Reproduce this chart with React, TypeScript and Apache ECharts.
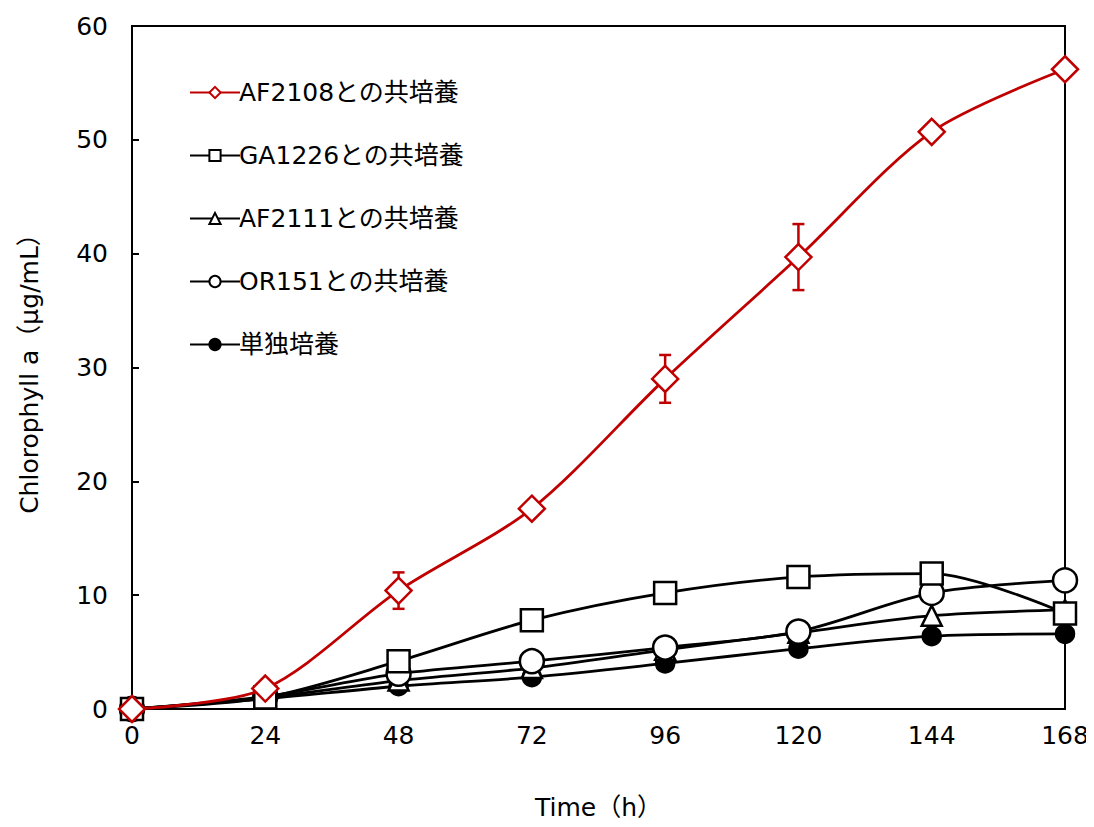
import React, { useEffect, useRef } from "react";
import * as echarts from "echarts";

const hours = [0, 24, 48, 72, 96, 120, 144, 168];
const seriesNames = ["AF2108との共培養", "GA1226との共培養", "AF2111との共培養", "OR151との共培養", "単独培養"];
const af2108 = [0, 1.8, 10.4, 17.6, 29.0, 39.7, 50.7, 56.2];
const af2108Err = [0, 0.3, 1.6, 0.4, 2.1, 2.9, 0.4, 0.3];
const ga1226 = [0, 1.0, 4.2, 7.8, 10.2, 11.6, 11.9, 8.4];
const ga1226Err = [0, 0, 0, 0, 0, 0.6, 0, 0];
const af2111 = [0, 1.0, 2.5, 3.6, 5.2, 6.7, 8.2, 8.7];
const or151 = [0, 1.1, 3.1, 4.2, 5.4, 6.8, 10.2, 11.3];
const single = [0, 0.9, 2.0, 2.8, 4.0, 5.3, 6.4, 6.6];
const xTicks = { min: 0, max: 168, interval: 24 };
const yTicks = { min: 0, max: 60, interval: 10 };

const FONT = "'DejaVu Sans', 'Noto Sans CJK JP', sans-serif";

function pairs(vals: number[]) {
  return hours.map((h, i) => [h, vals[i]]);
}
function errData(vals: number[], errs: number[]) {
  return hours.map((h, i) => [h, vals[i], errs[i]]).filter((d) => d[2] > 0);
}

function errorSeries(vals: number[], errs: number[], color: string, z: number) {
  return {
    type: "custom",
    z,
    silent: true,
    data: errData(vals, errs),
    renderItem: (params: any, api: any) => {
      const x = api.value(0);
      const y = api.value(1);
      const e = api.value(2);
      const top = api.coord([x, y + e]);
      const bot = api.coord([x, y - e]);
      const w = 6;
      const style = { stroke: color, lineWidth: 2.5 };
      return {
        type: "group",
        children: [
          { type: "line", shape: { x1: top[0], y1: top[1], x2: bot[0], y2: bot[1] }, style },
          { type: "line", shape: { x1: top[0] - w, y1: top[1], x2: top[0] + w, y2: top[1] }, style },
          { type: "line", shape: { x1: bot[0] - w, y1: bot[1], x2: bot[0] + w, y2: bot[1] }, style },
        ],
      };
    },
  };
}

function lineSeries(name: string, vals: number[], symbol: string, size: number, color: string, fill: string, z: number) {
  return {
    name,
    type: "line",
    data: pairs(vals),
    smooth: 0.3,
    symbol,
    symbolSize: size,
    z,
    lineStyle: { color, width: 2.8 },
    itemStyle: { color: fill, borderColor: color, borderWidth: 2.5 },
  };
}

export default function App() {
  const ref = useRef<HTMLDivElement>(null);
  useEffect(() => {
    if (!ref.current) return;
    const chart = echarts.init(ref.current, null, { renderer: "svg" });
    const red = "#C00000";
    chart.setOption({
      animation: false,
      backgroundColor: "#ffffff",
      textStyle: { fontFamily: FONT },
      grid: {
        left: 132,
        right: 29,
        top: 26,
        bottom: 118,
        show: true,
        borderColor: "#000",
        borderWidth: 2,
        backgroundColor: "transparent",
      },
      legend: {
        orient: "vertical",
        left: 184,
        top: 75,
        itemGap: 38,
        itemWidth: 50,
        itemHeight: 14,
        textStyle: { fontFamily: FONT, fontSize: 25, color: "#000", padding: [0, 0, 0, -6] },
        data: seriesNames,
      },
      xAxis: {
        type: "value",
        min: xTicks.min,
        max: xTicks.max,
        interval: xTicks.interval,
        name: "Time（h）",
        nameLocation: "middle",
        nameGap: 86,
        nameTextStyle: { fontFamily: FONT, fontSize: 25, color: "#000" },
        axisLine: { show: true, lineStyle: { color: "#000", width: 2 } },
        axisTick: { show: false },
        splitLine: { show: false },
        axisLabel: { fontFamily: FONT, fontSize: 25, color: "#000", margin: 14 },
      },
      yAxis: {
        type: "value",
        min: yTicks.min,
        max: yTicks.max,
        interval: yTicks.interval,
        name: "Chlorophyll a（μg/mL）",
        nameLocation: "middle",
        nameGap: 90,
        nameTextStyle: { fontFamily: FONT, fontSize: 25, color: "#000" },
        axisLine: { show: true, lineStyle: { color: "#000", width: 2 } },
        axisTick: { show: true, inside: true, length: 7, lineStyle: { color: "#000", width: 2 } },
        splitLine: { show: false },
        axisLabel: { fontFamily: FONT, fontSize: 25, color: "#000", margin: 24 },
      },
      series: [
        lineSeries(seriesNames[4], single, "circle", 18, "#000", "#000", 2),
        lineSeries(seriesNames[2], af2111, "triangle", 20, "#000", "#fff", 3),
        lineSeries(seriesNames[3], or151, "circle", 24, "#000", "#fff", 4),
        lineSeries(seriesNames[1], ga1226, "rect", 22, "#000", "#fff", 5),
        errorSeries(ga1226, ga1226Err, "#000", 5),
        errorSeries(af2108, af2108Err, red, 6),
        lineSeries(seriesNames[0], af2108, "diamond", 26, red, "#fff", 7),
      ],
    });
    return () => chart.dispose();
  }, []);
  return <div ref={ref} style={{ width: 1094, height: 827, margin: -8 }} />;
}
